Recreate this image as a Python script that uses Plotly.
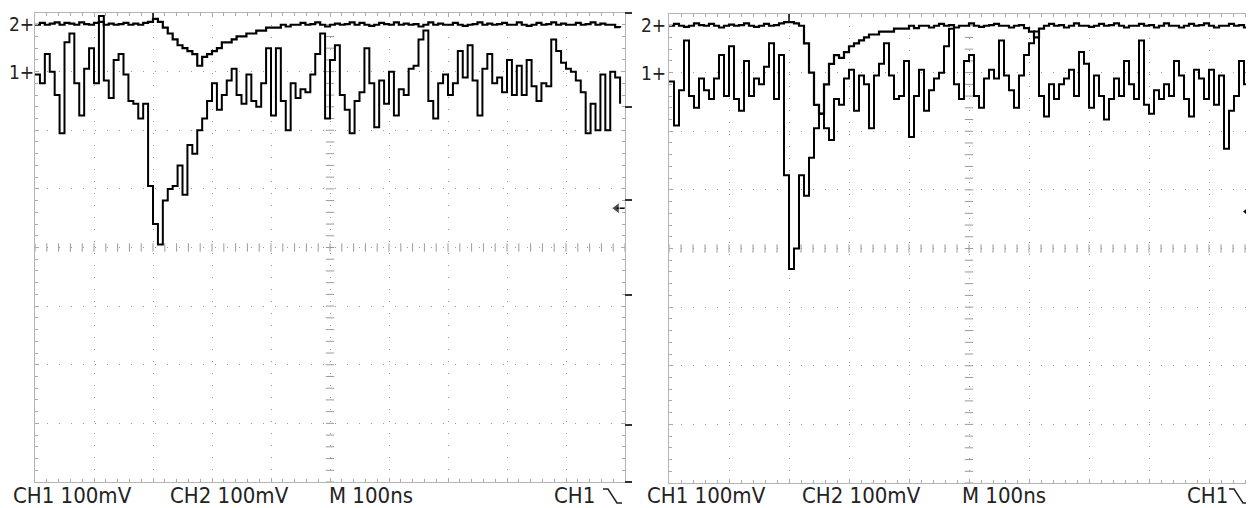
import numpy as np
import plotly.graph_objects as go

# browser window 1254x508; the page body keeps its default 8px margin
WIN_W, WIN_H, OFF = 1254, 508, 8
W, H = WIN_W - OFF, WIN_H - OFF

# ---------------- data (mV relative to each channel's ground marker) -------------
# time base: 100 ns/div, samples every 1000/120 ns
DT_NS = 1000 / 120

left_ch1_mv = [-5, -20, 30, 0, -40, -105, 50, 65, -20, -75,
               5, 40, -20, 95, -15, -45, 20, 30, -5, -50,
               -55, -80, -55, -195, -260, -295, -220, -200, -195, -160,
               -210, -125, -140, -100, -80, -50, -20, -65, -40, -15,
               5, -40, -55, -5, -50, -60, -20, 40, -75, 40,
               -50, -100, -20, -45, -30, -35, -5, 30, 65, -80,
               20, 45, -40, -65, -105, -50, -35, 40, -20, -95,
               -15, -55, 0, -75, -30, -40, 5, 10, 55, 70,
               -50, -80, -20, -5, -40, -20, 35, -10, 45, -15,
               -75, 5, 30, -20, -10, -35, 20, -40, 10, -40,
               20, -25, -50, -20, -25, 55, 35, 15, 5, 0,
               -15, -35, -105, -55, -100, -5, -100, 0, -10, -55]

left_ch2_mv = [0, 3, 0, 2, 4, 0, 3, 2, 0, 4, 1, 0, 3, 5, 0, 2, 0, 1, 3, 0, 2, 0, 3,
               5, 10, 5, -5, -15, -25, -35, -40, -45, -50, -70, -55, -50, -45, -40,
               -30, -30, -25, -20, -20, -15, -15, -10, -10, -5, -5, -5, 0, -3, 0, 0,
               3, 0, 1, 4, 0, -3, 0, 2, 0, 1, 4, 0, 3, 0, -2, 0, 3, 1, 0, 4,
               0, 2, 0, 1, -3, 0, 4, 0, 2, 0, 0, 3, 0, -2, 0, 1, 4, 0, 2, 0,
               1, 3, 0, 0, 4, 0, -2, 0, 3, 0, 1, 4, 0, 2, 0, 0, 3, 0, 1, 4,
               0, 2, 0, 0, -4, -5]

right_ch1_mv = [-15, -90, -30, 55, -40, -60, -10, -30, -45, -10,
                30, -40, 45, -45, -65, 20, -40, -10, -20, 10,
                50, -45, 30, -175, -335, -300, -175, -210, -145, -95,
                -70, -95, -115, -45, -55, -10, 5, -65, -5, -20,
                -95, -5, 15, 50, -5, -45, -40, 20, -110, -40,
                5, -65, -30, -10, 0, 45, 75, -20, -45, 20,
                30, -40, -60, -10, 5, -10, 55, -5, -30, -60,
                -5, 30, 50, 70, -40, -75, -20, -45, -20, -10,
                5, -40, 35, 15, -60, -5, -40, -80, -45, -10,
                -40, 20, -20, -45, 55, -55, -70, -30, -45, -20,
                -40, 20, -5, -45, -75, 5, -10, -45, 5, -55,
                -5, -130, -65, -40, 20, -20, -10]

right_ch2_mv = [0, 3, 0, -2, 0, 4, 1, 0, 3, 0, -3, 0, 2, 0, 1, 4, 0, -2, 0, 3, 0, 1,
                4, 6, 6, 4, 0,
                -30, -80, -135, -150, -100, -65, -50, -55, -45, -35, -30, -25, -20,
                -15, -15, -10, -10, -10, -5, -5, -5, 0, -4, 0,
                0, -3, 0, 3, 0, 1, -3, 0, 0, 4, 0, -2, 0, 1, 3, 0, 0, -3, 0, 1, -4,
                -10, -20, -5,
                0, 3, 0, 1, -3, 0, 4, 0, 0, -2, 0, 3, 0, 1, 4, 0, -3, 0, 0, 3,
                0, 1, -3, 0, 4, 0, 0, -3, 0, 3, 0, 1, 4, 0, -3, 0, 0, 3, 0, 1, -3, 0]

CH1_POS = 3.0   # ground marker position (divisions)
CH2_POS = 3.8
VOLTS_PER_DIV = 100  # mV

left_labels = ["CH1 100mV", "CH2 100mV", "M 100ns", "CH1"]
right_labels = ["CH1 100mV", "CH2 100mV", "M 100ns", "CH1"]

# ---------------- helpers (screen pixels -> paper fractions) ----------------
def px(x):
    return (x - OFF) / W

def py(y):
    return 1 - (y - OFF) / H

def to_div(mv, pos):
    return np.asarray(mv, dtype=float) / VOLTS_PER_DIV + pos

fig = go.Figure()

panels = [
    dict(xa="x", ya="y", ch1=left_ch1_mv, ch2=left_ch2_mv, xr=[0, 1000],
         dom_x=[px(35), px(625)], dom_y=[py(482), py(13)]),
    dict(xa="x2", ya="y2", ch1=right_ch1_mv, ch2=right_ch2_mv, xr=[0, 975],
         dom_x=[px(669), 1.0], dom_y=[py(483), py(14)]),
]

GRID = "#9a9a9a"
for p in panels:
    t1 = np.arange(len(p["ch1"])) * DT_NS
    t2 = np.arange(len(p["ch2"])) * DT_NS
    # centre graticule tick marks
    fig.add_trace(go.Scatter(x=np.arange(0, 1001, 20), y=np.zeros(51), mode="markers",
                             marker=dict(symbol="line-ns", size=6, line=dict(width=1, color=GRID)),
                             xaxis=p["xa"], yaxis=p["ya"], hoverinfo="skip", showlegend=False))
    fig.add_trace(go.Scatter(x=np.full(41, 500), y=np.arange(-4, 4.01, 0.2), mode="markers",
                             marker=dict(symbol="line-ew", size=6, line=dict(width=1, color=GRID)),
                             xaxis=p["xa"], yaxis=p["ya"], hoverinfo="skip", showlegend=False))
    fig.add_trace(go.Scatter(x=t2, y=to_div(p["ch2"], CH2_POS), mode="lines",
                             line=dict(color="black", width=2.2, shape="hv"),
                             xaxis=p["xa"], yaxis=p["ya"], showlegend=False, name="CH2"))
    fig.add_trace(go.Scatter(x=t1, y=to_div(p["ch1"], CH1_POS), mode="lines",
                             line=dict(color="black", width=2, shape="hv"),
                             xaxis=p["xa"], yaxis=p["ya"], showlegend=False, name="CH1"))

# trigger level arrows
fig.add_trace(go.Scatter(x=[986, 1000], y=[0.67, 0.67], mode="lines+markers",
                         marker=dict(symbol=["triangle-left", "line-ew"], size=[10, 1], color="black"),
                         line=dict(color="black", width=1.5), cliponaxis=False,
                         xaxis="x", yaxis="y", showlegend=False, hoverinfo="skip"))
fig.add_trace(go.Scatter(x=[965], y=[0.63], mode="markers",
                         marker=dict(symbol="triangle-left", size=10, color="black"),
                         cliponaxis=False, xaxis="x2", yaxis="y2", showlegend=False, hoverinfo="skip"))

axis_common = dict(showgrid=True, gridcolor=GRID, griddash="1px,11px", gridwidth=1,
                   zeroline=False, showticklabels=False, showline=True, linecolor="#b5b5b5",
                   linewidth=1, ticks="inside", ticklen=4, tickcolor="#aaaaaa")

layout = dict(width=W, height=H, margin=dict(l=0, r=0, t=0, b=0),
              paper_bgcolor="white", plot_bgcolor="white", showlegend=False)
for i, p in enumerate(panels):
    sx = "" if i == 0 else "2"
    layout["xaxis" + sx] = dict(axis_common, domain=p["dom_x"], range=p["xr"], dtick=100, tick0=0,
                                anchor="y" + sx, mirror="allticks",
                                minor=dict(dtick=20, ticks="inside", ticklen=3, tickcolor="#aaaaaa",
                                           showgrid=False))
    layout["yaxis" + sx] = dict(axis_common, domain=p["dom_y"], range=[-4, 4], dtick=1, tick0=0,
                                anchor="x" + sx, mirror=("allticks" if i == 0 else False),
                                minor=dict(dtick=0.2, ticks="inside", ticklen=3, tickcolor="#aaaaaa",
                                           showgrid=False))
fig.update_layout(**layout)

# trigger position markers at top (t = 200 ns)
for xa, ya in (("x", "y"), ("x2", "y2")):
    fig.add_shape(type="line", xref=xa, yref=ya, x0=200, x1=200, y0=4, y1=3.86,
                  line=dict(color="black", width=1.5))

FONT = "DejaVu Sans Condensed, Liberation Sans Narrow, Arial Narrow, sans-serif"

# channel ground markers
ann = []
MFONT = dict(family=FONT, size=19, color="#222")
for xr, y1, y2 in ((36, 72, 24), (668, 73, 25)):
    ann.append(dict(text="1+", x=px(xr), y=py(y1), xref="paper", yref="paper",
                    xanchor="right", yanchor="middle", showarrow=False, font=MFONT))
    ann.append(dict(text="2+", x=px(xr), y=py(y2), xref="paper", yref="paper",
                    xanchor="right", yanchor="middle", showarrow=False, font=MFONT))

# bottom status line
for labels, xs in ((left_labels, (11, 168, 327, 552)), (right_labels, (645, 800, 960, 1185))):
    for lab, x0 in zip(labels, xs):
        ann.append(dict(text=lab, x=px(x0), y=py(495), xref="paper", yref="paper",
                        xanchor="left", yanchor="middle", showarrow=False,
                        font=dict(family=FONT, size=22, color="#222")))
fig.update_layout(annotations=ann)

# falling-edge trigger slope icons
for x0 in (603, 1229):
    pts = [(x0, 489), (x0 + 5, 489), (x0 + 14, 503), (x0 + 19, 503)]
    path = "M " + " L ".join(f"{px(a):.5f},{py(b):.5f}" for a, b in pts)
    fig.add_shape(type="path", xref="paper", yref="paper", path=path,
                  line=dict(color="#222", width=1.5))

# small marks just right of the left graticule
for yy in (13, 107, 200, 295, 425, 482):
    fig.add_shape(type="line", xref="paper", yref="paper", x0=px(625), x1=px(632),
                  y0=py(yy), y1=py(yy), line=dict(color="#333", width=2))

fig.write_html("out.html")
